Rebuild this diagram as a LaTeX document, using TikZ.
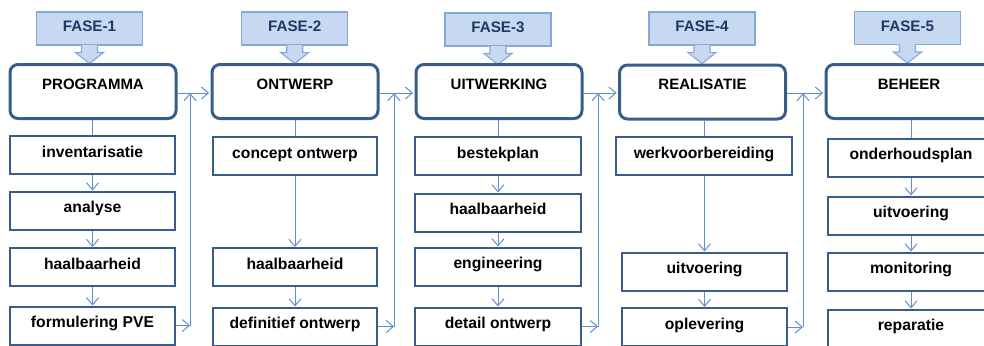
\documentclass[tikz,border=0pt]{standalone}
\usepackage{fontspec}
\setmainfont{Liberation Sans}
\usetikzlibrary{arrows.meta}
\definecolor{boxblue}{HTML}{385D8A}
\definecolor{linkblue}{HTML}{5F8FCF}
\definecolor{fasefill}{HTML}{C6D9F1}
\definecolor{faseline}{HTML}{86A8D6}
\definecolor{fasetext}{HTML}{1F3864}
\tikzset{
  mainbox/.style={draw=boxblue, line width=3pt, rounded corners=8pt, fill=white,
    minimum width=166pt, minimum height=54pt, inner sep=0pt,
    font=\fontsize{15}{18}\selectfont\bfseries, text height=11pt, text depth=16pt},
  subbox/.style={draw=boxblue, line width=2pt, fill=white,
    minimum width=165pt, minimum height=38pt, inner sep=0pt,
    font=\fontsize{15.7}{18}\selectfont\bfseries, text height=11pt, text depth=6.4pt},
  fasebox/.style={draw=faseline, line width=1.1pt, fill=fasefill,
    minimum width=106pt, minimum height=33pt, inner sep=0pt, text=fasetext,
    font=\fontsize{15.2}{18}\selectfont\bfseries, text height=11pt, text depth=4pt},
  conn/.style={draw=linkblue, line width=1pt},
  arr/.style={conn, -{Straight Barb[length=7pt,width=12pt]}},
  callout/.style={draw=faseline, line width=1.1pt, fill=fasefill, line join=miter},
}
\newcommand{\faseArrow}[1]{%
  \fill[fasefill] (#1.south) ++(-7.4,-0.9) rectangle ++(14.8,3);
  \draw[callout] (#1.south) ++(-8,0) -- ++(0,7) -- ++(-6,0) -- ++(14,11) -- ++(14,-11) -- ++(-6,0) -- ++(0,-7);
}
\begin{document}
\begin{tikzpicture}[x=1pt,y=-1pt]
\useasboundingbox (0,0) rectangle (984,345);
\clip (0,0) rectangle (984,345);

% phase callouts
\node[fasebox] (f1) at (89.5,28.5) {FASE-1};
\node[fasebox] (f2) at (294.7,28.5) {FASE-2};
\node[fasebox] (f3) at (498,29.5) {FASE-3};
\node[fasebox] (f4) at (702,28.5) {FASE-4};
\node[fasebox] (f5) at (907.5,28) {FASE-5};
\faseArrow{f1}
\faseArrow{f2}
\faseArrow{f3}
\faseArrow{f4}
\faseArrow{f5}

% main boxes
\node[mainbox] (p1) at (93,91.5) {PROGRAMMA};
\node[mainbox] (p2) at (295,91.5) {ONTWERP};
\node[mainbox] (p3) at (499,91.5) {UITWERKING};
\node[mainbox] (p4) at (702.5,92) {REALISATIE};
\node[mainbox] (p5) at (909,91.5) {BEHEER};

% column 1
\node[subbox] (a1) at (92.5,155) {inventarisatie};
\node[subbox] (a2) at (92.5,210.5) {analyse};
\node[subbox] (a3) at (92.5,267) {haalbaarheid};
\node[subbox] (a4) at (92.5,325.5) {formulering PVE};
% column 2
\node[subbox, minimum width=164pt] (b1) at (295,156) {concept ontwerp};
\node[subbox, minimum width=164pt] (b2) at (295,267) {haalbaarheid};
\node[subbox, minimum width=164pt] (b3) at (295,326.5) {definitief ontwerp};
% column 3
\node[subbox, minimum width=166pt] (c1) at (498,156) {bestekplan};
\node[subbox, minimum width=166pt] (c2) at (498,212.5) {haalbaarheid};
\node[subbox, minimum width=166pt] (c3) at (498,266.5) {engineering};
\node[subbox, minimum width=166pt] (c4) at (498,326.5) {detail ontwerp};
% column 4
\node[subbox, minimum width=176pt] (d1) at (704,156) {werkvoorbereiding};
\node[subbox] (d2) at (704.5,271.5) {uitvoering};
\node[subbox] (d3) at (704.5,327) {oplevering};
% column 5
\node[subbox, minimum width=166pt] (e1) at (911,157.5) {onderhoudsplan};
\node[subbox, minimum width=166pt] (e2) at (911,215.5) {uitvoering};
\node[subbox, minimum width=166pt] (e3) at (911,271.5) {monitoring};
\node[subbox, minimum width=166pt] (e4) at (911,328.5) {reparatie};

% vertical links inside columns
\draw[conn] (p1.south -| a1.north) -- (a1.north);
\draw[arr] (a1) -- (a2);
\draw[arr] (a2) -- (a3);
\draw[arr] (a3) -- (a4);
\draw[conn] (p2.south) -- (b1.north);
\draw[arr] (b1) -- (b2);
\draw[arr] (b2) -- (b3);
\draw[conn] (p3.south -| c1.north) -- (c1.north);
\draw[arr] (c1) -- (c2);
\draw[arr] (c2) -- (c3);
\draw[arr] (c3) -- (c4);
\draw[conn] (p4.south -| d1.north) -- (d1.north);
\draw[arr] (d1.south -| d2.north) -- (d2.north);
\draw[arr] (d2) -- (d3);
\draw[conn] (p5.south -| e1.north) -- (e1.north);
\draw[arr] (e1) -- (e2);
\draw[arr] (e2) -- (e3);
\draw[arr] (e3) -- (e4);

% phase-to-phase links
\coordinate (j1) at (190,93);
\coordinate (j2) at (394,93);
\coordinate (j3) at (598,93);
\coordinate (j4) at (803,93);
\coordinate (k1) at (a4.east -| j1);
\coordinate (k2) at (b3.east -| j2);
\coordinate (k3) at (c4.east -| j3);
\coordinate (k4) at (d3.east -| j4);

\draw[arr] (a4.east) -- (k1);
\draw[arr] (k1) -- (j1);
\draw[arr, shorten >=1.4pt] (p1.east |- j1) -- (p2.west |- j1);
\draw[arr] (b3.east) -- (k2);
\draw[arr] (k2) -- (j2);
\draw[arr, shorten >=1.4pt] (p2.east |- j2) -- (p3.west |- j2);
\draw[arr] (c4.east) -- (k3);
\draw[arr] (k3) -- (j3);
\draw[arr, shorten >=1.4pt] (p3.east |- j3) -- (p4.west |- j3);
\draw[arr] (d3.east) -- (k4);
\draw[arr] (k4) -- (j4);
\draw[arr, shorten >=1.4pt] (p4.east |- j4) -- (p5.west |- j4);
\end{tikzpicture}
\end{document}
